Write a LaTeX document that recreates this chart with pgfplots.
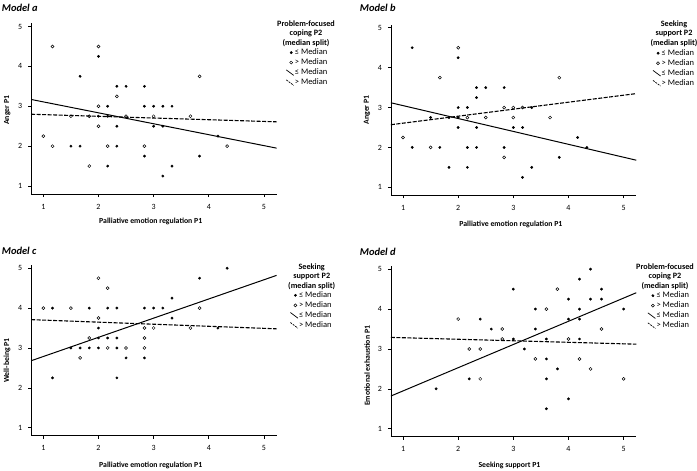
\documentclass[border=0pt]{standalone}
\usepackage{pgfplots}
\pgfplotsset{compat=1.18}
\usepackage{fontspec}
\setmainfont{Carlito}

\pgfplotsset{
  spss/.style={
    scale only axis, width=245.4bp, height=170.7bp,
    xmin=0.78, xmax=5.23, ymin=0.8, ymax=5.08,
    axis lines=left, axis line style={-, line width=0.8bp, black},
    xtick={1,2,3,4,5}, ytick={1,2,3,4,5},
    tick align=outside, major tick length=3bp, tick style={line width=0.6bp, black},
    ticklabel style={font=\fontsize{8}{9.6}\selectfont},
    xticklabel style={yshift=-3.5bp},
    yticklabel style={xshift=-2.5bp},
    /pgf/number format/assume math mode=true,
    label style={font=\fontsize{7.8}{9.4}\selectfont\bfseries},
    anchor=south west,
    legend cell align=left,
    legend style={draw=none, fill=none, font=\fontsize{8.5}{10}\selectfont, anchor=north west,
      row sep=0.6bp, inner sep=0pt, nodes={inner sep=0.8bp, text height=6.2bp, text depth=1.6bp}},
  },
  filled/.style={only marks, mark=*, mark size=1.2bp, black,
    legend image code/.code={\draw[##1] plot coordinates {(5bp,0bp)};}},
  hollow/.style={only marks, mark=o, mark size=1.5bp, black, mark options={line width=0.5bp},
    legend image code/.code={\draw[##1] plot coordinates {(5bp,0bp)};}},
  solidreg/.style={black, line width=1bp, no marks,
    legend image code/.code={\draw[##1, line width=0.7bp] (0bp,2.8bp) -- (7.5bp,-2.8bp);}},
  dashreg/.style={black, line width=1.1bp, no marks, dash pattern=on 4bp off 1.5bp,
    legend image code/.code={\draw[##1, line width=0.7bp, dash pattern=on 2bp off 1bp] (0bp,2.8bp) -- (7.5bp,-2.8bp);}},
}

\begin{document}
\begin{tikzpicture}
\useasboundingbox (0,0) rectangle (697bp,-471bp);

% ---------------- Model a ----------------
\begin{axis}[spss, at={(31.2bp,-194bp)},
  xlabel={Palliative emotion regulation P1}, ylabel={Anger P1},
  xlabel style={at={(axis description cs:0.487,-0.162)}, anchor=center},
  ylabel style={at={(axis description cs:-0.098,0.49)}, anchor=center},
  legend style={at={(axis description cs:1.037,0.857)}}]
\addplot[filled] coordinates {(2,4.25)(1.6667,3.75)(2.3333,3.5)(2.5,3.5)(2.8333,3.5)(2.1667,3)(2.8333,3)(3,3)(3.1667,3)(3.3333,3)(2,2.75)(2.1667,2.75)(2.3333,2.5)(3,2.5)(3.1667,2.5)(4.1667,2.25)(1.5,2)(1.6667,2)(2.3333,2)(2.8333,1.75)(3.8333,1.75)(2.1667,1.5)(3.3333,1.5)(3.1667,1.25)};
\addlegendentry{≤ Median}
\addplot[hollow] coordinates {(1.1667,4.5)(2,4.5)(3.8333,3.75)(2.3333,3.25)(2,3)(1.5,2.75)(1.8333,2.75)(2.5,2.75)(3,2.75)(3.6667,2.75)(2,2.5)(1,2.25)(1.1667,2)(2.1667,2)(2.8333,2)(4.3333,2)(1.8333,1.5)};
\addlegendentry{> Median}
\addplot[solidreg] coordinates {(0.78,3.17)(5.23,1.95)};
\addlegendentry{≤ Median}
\addplot[dashreg] coordinates {(0.78,2.80)(5.23,2.61)};
\addlegendentry{> Median}
\end{axis}

% ---------------- Model b ----------------
\begin{axis}[spss, at={(390.9bp,-195.3bp)},
  xlabel={Palliative emotion regulation P1}, ylabel={Anger P1},
  xlabel style={at={(axis description cs:0.489,-0.17)}, anchor=center},
  ylabel style={at={(axis description cs:-0.097,0.5)}, anchor=center},
  legend style={at={(axis description cs:1.066,0.861)}}]
\addplot[filled] coordinates {(1.1667,4.5)(2,4.25)(2.3333,3.5)(2.5,3.5)(2.8333,3.5)(2.3333,3.25)(2,3)(2.1667,3)(3.3333,3)(1.5,2.75)(1.8333,2.75)(2,2.75)(2,2.5)(2.3333,2.5)(3,2.5)(3.1667,2.5)(4.1667,2.25)(1.1667,2)(1.6667,2)(2.1667,2)(2.3333,2)(2.8333,2)(4.3333,2)(3.8333,1.75)(1.8333,1.5)(2.1667,1.5)(3.3333,1.5)(3.1667,1.25)};
\addlegendentry{≤ Median}
\addplot[hollow] coordinates {(2,4.5)(1.6667,3.75)(3.8333,3.75)(2.8333,3)(3,3)(3.1667,3)(2.1667,2.75)(2.5,2.75)(3,2.75)(3.6667,2.75)(1,2.25)(1.5,2)(2.8333,1.75)};
\addlegendentry{> Median}
\addplot[solidreg] coordinates {(0.78,3.12)(5.23,1.68)};
\addlegendentry{≤ Median}
\addplot[dashreg] coordinates {(0.78,2.57)(5.23,3.35)};
\addlegendentry{> Median}
\end{axis}

% ---------------- Model c ----------------
\begin{axis}[spss, at={(31.2bp,-435.7bp)},
  xlabel={Palliative emotion regulation P1}, ylabel={Well-being P1},
  xlabel style={at={(axis description cs:0.487,-0.172)}, anchor=center},
  ylabel style={at={(axis description cs:-0.098,0.44)}, anchor=center},
  legend style={at={(axis description cs:1.054,0.851)}}]
\addplot[filled] coordinates {(1.1667,4)(1.8333,4)(2.1667,4)(2.3333,4)(2.8333,4)(3,4)(3.1667,4)(4.3333,5)(3.8333,4.75)(3.3333,4.25)(3.3333,3.75)(2,3.5)(4.1667,3.5)(2,3.25)(2.1667,3.25)(2.3333,3.25)(1.5,3)(1.6667,3)(1.8333,3)(2,3)(2.3333,3)(2.5,2.75)(2.8333,2.75)(1.1667,2.25)(2.3333,2.25)};
\addlegendentry{≤ Median}
\addplot[hollow] coordinates {(2,4.75)(2.1667,4.5)(1,4)(1.5,4)(3.8333,4)(2,3.75)(2.8333,3.5)(3,3.5)(3.6667,3.5)(1.8333,3.25)(2.8333,3.25)(2.1667,3)(2.5,3)(2.8333,3)(1.6667,2.75)};
\addlegendentry{> Median}
\addplot[solidreg] coordinates {(0.78,2.68)(5.23,4.82)};
\addlegendentry{≤ Median}
\addplot[dashreg] coordinates {(0.78,3.71)(5.23,3.48)};
\addlegendentry{> Median}
\end{axis}

% ---------------- Model d ----------------
\begin{axis}[spss, at={(390.9bp,-436.7bp)},
  xlabel={Seeking support P1}, ylabel={Emotional exhaustion P1},
  xlabel style={at={(axis description cs:0.483,-0.166)}, anchor=center},
  ylabel style={at={(axis description cs:-0.097,0.415)}, anchor=center},
  legend style={at={(axis description cs:1.045,0.855)}}]
\addplot[filled] coordinates {(3,4.5)(2.4,3.75)(2.6,3.5)(3,3.25)(2.2,2.25)(1.6,2)(4.4,5)(4.2,4.75)(4.6,4.5)(4,4.25)(4.4,4.25)(4.6,4.25)(3.4,4)(4.2,4)(5,4)(4,3.75)(4.2,3.75)(3.4,3.5)(3.6,3.25)(4.2,3.25)(3.2,3)(3.6,2.75)(3.8,2.5)(3.6,2.25)(4,1.75)(3.6,1.5)};
\addlegendentry{≤ Median}
\addplot[hollow] coordinates {(2,3.75)(2.8,3.5)(2.8,3.25)(2.2,3)(2.4,3)(2.4,2.25)(3.8,4.5)(3.6,4)(4.6,3.5)(4,3.25)(3.4,2.75)(4.2,2.75)(4.4,2.5)(5,2.25)};
\addlegendentry{> Median}
\addplot[solidreg] coordinates {(0.78,1.82)(5.23,4.41)};
\addlegendentry{≤ Median}
\addplot[dashreg] coordinates {(0.78,3.29)(5.23,3.12)};
\addlegendentry{> Median}
\end{axis}

% ---------------- titles ----------------
\begin{scope}[every node/.style={inner sep=0pt}]
\node[anchor=base west, font=\fontsize{10.5}{12}\selectfont\bfseries\itshape] at (1.7bp,-11.7bp) {Model a};
\node[anchor=base west, font=\fontsize{10.5}{12}\selectfont\bfseries\itshape] at (359.7bp,-11.7bp) {Model b};
\node[anchor=base west, font=\fontsize{10.5}{12}\selectfont\bfseries\itshape] at (1.7bp,-254bp) {Model c};
\node[anchor=base west, font=\fontsize{10.5}{12}\selectfont\bfseries\itshape] at (359.7bp,-255bp) {Model d};
\node[anchor=north, align=center, font=\fontsize{8.2}{9.6}\selectfont\bfseries] at (306bp,-20.5bp) {Problem-focused\\coping P2\\(median split)};
\node[anchor=north, align=center, font=\fontsize{8.2}{9.6}\selectfont\bfseries] at (674bp,-20.5bp) {Seeking\\support P2\\(median split)};
\node[anchor=north, align=center, font=\fontsize{8.2}{9.6}\selectfont\bfseries] at (311.7bp,-263.3bp) {Seeking\\support P2\\(median split)};
\node[anchor=north, align=center, font=\fontsize{8.2}{9.6}\selectfont\bfseries] at (665bp,-263.3bp) {Problem-focused\\coping P2\\(median split)};
\end{scope}
\end{tikzpicture}
\end{document}
